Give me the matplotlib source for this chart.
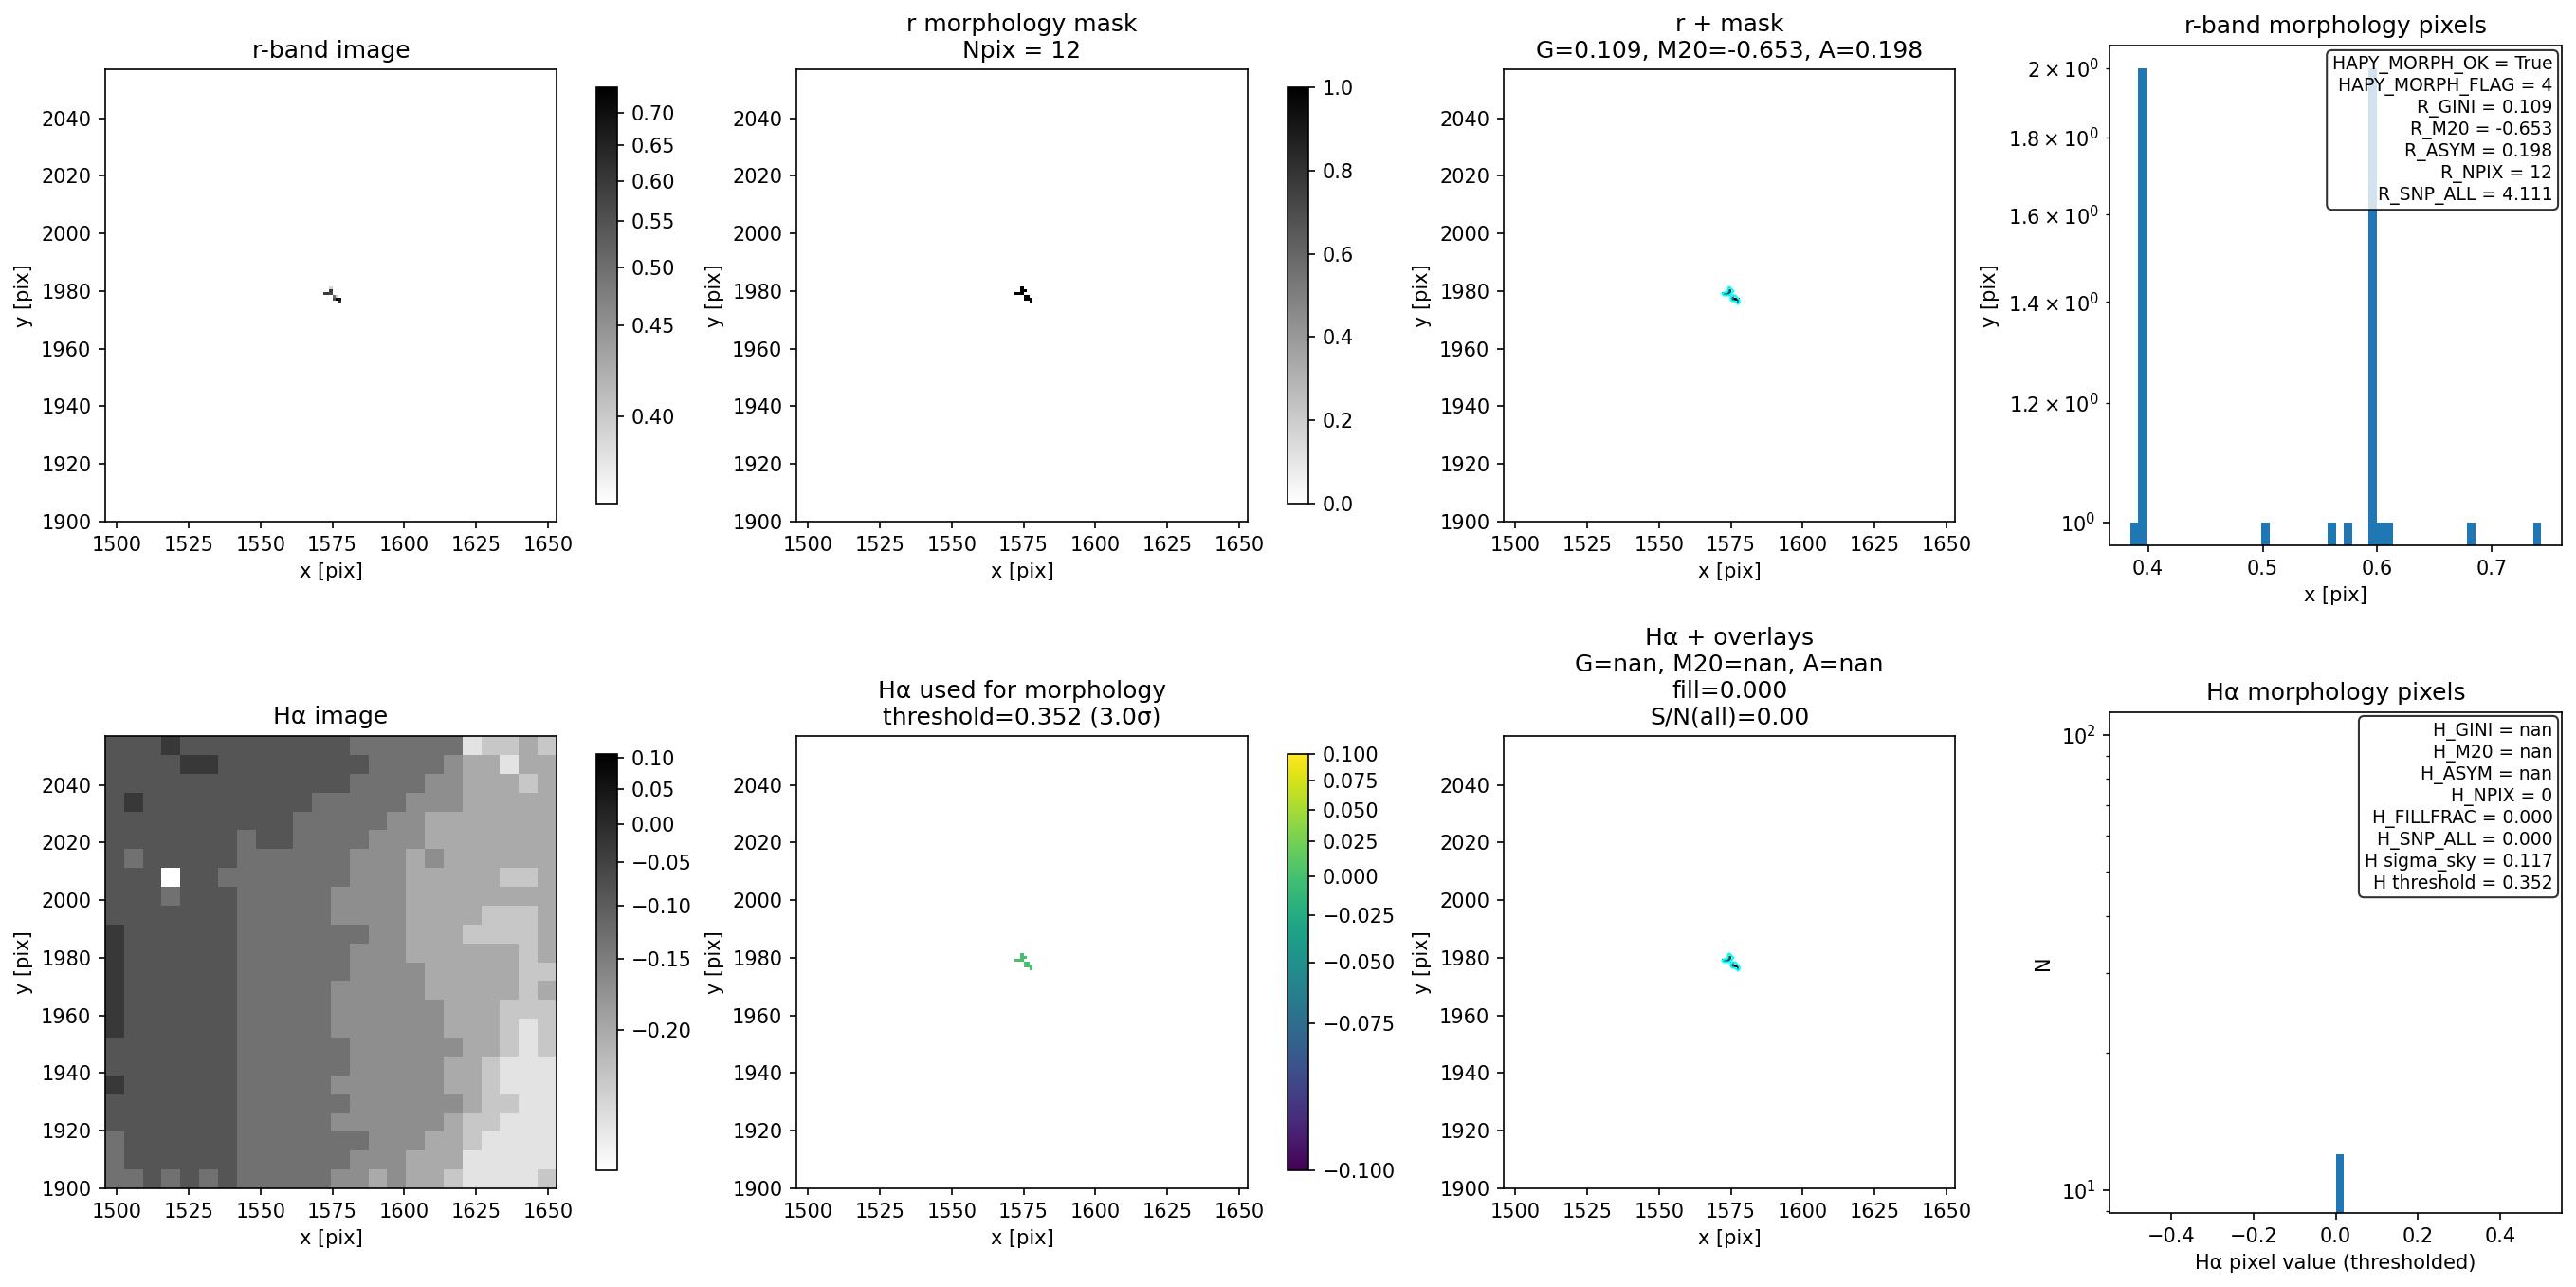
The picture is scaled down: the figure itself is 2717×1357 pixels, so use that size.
import numpy as np
import matplotlib

matplotlib.use("Agg")

import matplotlib.pyplot as plt
from matplotlib.colors import PowerNorm

W, H = 2717, 1357
DPI = 150

# image window in pixels of the mosaic
X0, X1 = 1496, 1653
Y0, Y1 = 1900, 2057
NPIX = 157

# the 12 pixels of the r-band morphology mask (grid col/row, value)
r_cols = [78, 78, 79, 76, 77, 78, 79, 80, 79, 80, 81, 81]
r_rows = [81, 80, 80, 79, 79, 79, 78, 78, 77, 77, 77, 76]
r_vals = [0.395, 0.603, 0.3844, 0.595, 0.597, 0.575, 0.503, 0.396, 0.560, 0.7429, 0.683, 0.610]
h_vals = [0.0] * 12

# H-alpha cutout: local brightness read by eye on a coarse 24x24 grid, top row first
# (0 black .. 9 white). The real pixel to pixel noise cannot be read off the picture.
ha_rows = [
    "333233333333344444487767",
    "333322333333334444566866",
    "333333333333344445566676",
    "323333333334444455566666",
    "333333333344444556666666",
    "333333343344445556666666",
    "343333344444455565666666",
    "333933444444455566666776",
    "333433344444555566666666",
    "333333344444555566667776",
    "233333344444445566677776",
    "233333344444455566666676",
    "233333344444455556666677",
    "233333344444555556666676",
    "233333344444555555666777",
    "233333344444555555666787",
    "333333344444455555566787",
    "333333344444455555667888",
    "233333344444555555667888",
    "333333344444455555567788",
    "333333344444555555677888",
    "433333344444445556678888",
    "433333344444455566688888",
    "443434344444556566788887",
]

r_lines = [
    "HAPY_MORPH_OK = True",
    "HAPY_MORPH_FLAG = 4",
    "R_GINI = 0.109",
    "R_M20 = -0.653",
    "R_ASYM = 0.198",
    "R_NPIX = 12",
    "R_SNP_ALL = 4.111",
]
h_lines = [
    "H_GINI = nan",
    "H_M20 = nan",
    "H_ASYM = nan",
    "H_NPIX = 0",
    "H_FILLFRAC = 0.000",
    "H_SNP_ALL = 0.000",
    "H sigma_sky = 0.117",
    "H threshold = 0.352",
]


def add_axes_px(fig, left, right, top, bottom):
    return fig.add_axes([left / W, 1 - bottom / H, (right - left) / W, (bottom - top) / H])


def show(ax, img, cmap, norm, clim=None):
    im = ax.imshow(
        img,
        origin="lower",
        cmap=cmap,
        norm=norm,
        extent=[X0, X1, Y0 - 0.5, Y1 - 0.5],
        interpolation="nearest",
        aspect="auto",
    )
    if clim is not None:
        im.set_clim(*clim)
    ax.set_xlim(X0, X1)
    ax.set_ylim(Y0, Y1)
    ax.set_xlabel("x [pix]")
    ax.set_ylabel("y [pix]")
    return im


def draw_contour(ax, mask):
    xx = X0 + 0.5 + np.arange(NPIX)
    yy = Y0 + np.arange(NPIX)
    ax.contour(xx, yy, mask, levels=[0.5], colors="cyan", linewidths=1.0)


def info_box(ax, lines):
    ax.text(
        0.98,
        0.98,
        "\n".join(lines),
        transform=ax.transAxes,
        ha="right",
        va="top",
        fontsize=9,
        bbox=dict(boxstyle="round", facecolor="white", alpha=0.8),
    )


def pixel_image(values):
    img = np.full((NPIX, NPIX), np.nan)
    img[r_rows, r_cols] = values
    return img


def main():
    fig = plt.figure(figsize=(W / DPI, H / DPI), dpi=DPI)

    r_img = pixel_image(r_vals)
    mask = np.zeros((NPIX, NPIX))
    mask[r_rows, r_cols] = 1.0
    h_img = pixel_image(h_vals)

    digits = np.array([[int(c) for c in row] for row in ha_rows], dtype=float)[::-1]
    ha_min, ha_max = -0.239, 0.106
    ha_img = ha_min + (ha_max - ha_min) * (1 - digits / 9) ** 2

    r_norm = PowerNorm(0.5, vmin=min(r_vals), vmax=max(r_vals))
    ha_norm = PowerNorm(0.5, vmin=ha_min, vmax=ha_max)
    h_norm = PowerNorm(0.5, vmin=-0.1, vmax=0.1)

    cols = [(111, 587), (840, 1316), (1586, 2062)]
    top = (73, 550)
    bot = (776, 1253)
    cbar_x = [(629, 651), (1358, 1380)]

    # top row
    ax = add_axes_px(fig, *cols[0], *top)
    im = show(ax, r_img, "gray_r", r_norm)
    ax.set_title("r-band image")
    fig.colorbar(im, cax=add_axes_px(fig, *cbar_x[0], 92, 531))

    ax = add_axes_px(fig, *cols[1], *top)
    im = show(ax, mask, "gray_r", None, clim=(0, 1))
    ax.set_title("r morphology mask\nNpix = 12")
    fig.colorbar(im, cax=add_axes_px(fig, *cbar_x[1], 92, 531))

    ax = add_axes_px(fig, *cols[2], *top)
    show(ax, r_img, "gray_r", r_norm)
    draw_contour(ax, mask)
    ax.set_title("r + mask\nG=0.109, M20=-0.653, A=0.198")

    ax = add_axes_px(fig, 2225, 2702, 48, 575)
    ax.hist(r_vals, bins=50, log=True)
    ax.set_title("r-band morphology pixels")
    ax.set_xlabel("x [pix]")
    ax.set_ylabel("y [pix]")
    info_box(ax, r_lines)

    # bottom row
    ax = add_axes_px(fig, *cols[0], *bot)
    im = ax.imshow(
        ha_img,
        origin="lower",
        cmap="gray_r",
        norm=ha_norm,
        extent=[X0, X1, Y0, Y1],
        interpolation="nearest",
        aspect="auto",
    )
    ax.set_xlabel("x [pix]")
    ax.set_ylabel("y [pix]")
    ax.set_title("H\u03b1 image")
    fig.colorbar(im, cax=add_axes_px(fig, *cbar_x[0], 795, 1234))

    ax = add_axes_px(fig, *cols[1], *bot)
    im = show(ax, h_img, "viridis", h_norm)
    ax.set_title("H\u03b1 used for morphology\nthreshold=0.352 (3.0\u03c3)")
    fig.colorbar(im, cax=add_axes_px(fig, *cbar_x[1], 795, 1234))

    ax = add_axes_px(fig, *cols[2], *bot)
    show(ax, r_img, "gray_r", r_norm)
    draw_contour(ax, mask)
    ax.set_title("H\u03b1 + overlays\nG=nan, M20=nan, A=nan\nfill=0.000\nS/N(all)=0.00")

    ax = add_axes_px(fig, 2225, 2702, 751, 1279)
    ax.hist(h_vals, bins=50, log=True)
    ax.set_ylim(8.9, 112)
    ax.set_title("H\u03b1 morphology pixels")
    ax.set_xlabel("H\u03b1 pixel value (thresholded)")
    ax.set_ylabel("N")
    info_box(ax, h_lines)

    fig.savefig("out.png", dpi=DPI)


if __name__ == "__main__":
    main()
